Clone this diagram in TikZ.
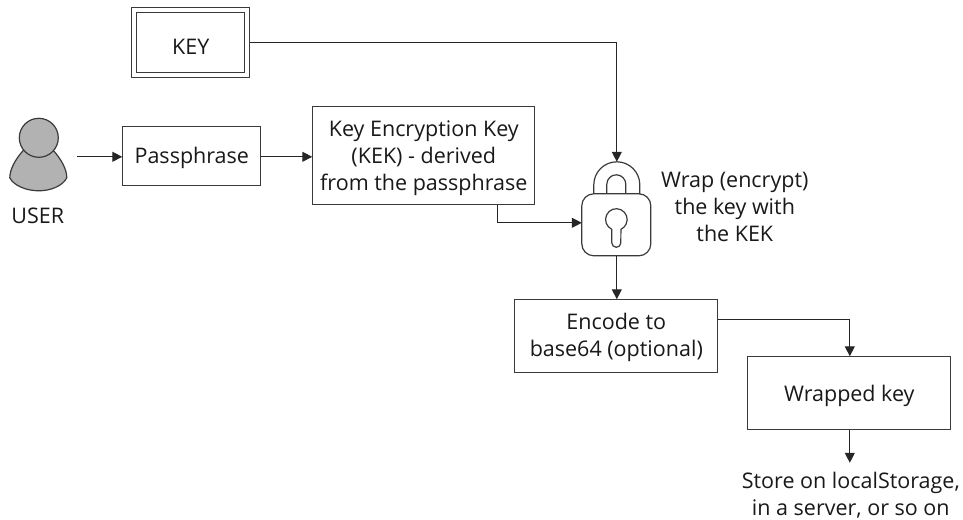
\documentclass[tikz,border=0pt]{standalone}
\usepackage{fontspec}
\setmainfont{Open Sans}
\usetikzlibrary{arrows.meta,calc}
\definecolor{ln}{HTML}{3A3A3A}
\tikzset{
  boxn/.style={draw=ln,line width=1.1pt,fill=white,inner sep=0pt,align=center,text=black!90},
  lbl/.style={inner sep=0pt,align=center,text=black!90},
  conn/.style={draw=black!85,line width=1.1pt,-{Triangle[length=10pt,width=10pt]}},
  lockline/.style={draw=ln,line width=1.2pt}
}
\begin{document}
\begin{tikzpicture}[x=1pt,y=-1pt,font=\fontsize{21.5}{27}\selectfont]
\useasboundingbox (0.2,0.2) rectangle (963.2,519.2);
% key
\node[boxn,minimum width=118pt,minimum height=70pt] (keyo) at (191,43) {};
\node[boxn,minimum width=108pt,minimum height=60pt] (key) at (191,43) {\raisebox{-11.5pt}[0pt][0pt]{KEY}};
% user
\filldraw[fill=black!30,lockline] (24,150) .. controls (15,160) and (10,170) .. (10,178) .. controls (14,186) and (27,191) .. (39,191) .. controls (51,191) and (63,186) .. (67,178) .. controls (67,170) and (62,160) .. (53,150) -- cycle;
\node[circle,draw=ln,fill=black!30,line width=1.2pt,minimum size=39pt,inner sep=0pt] (head) at (39,138) {};
\node[lbl] (user) at (38,216) {USER};
\coordinate (userout) at (77,157);
% boxes
\node[boxn,minimum width=138pt,minimum height=59pt] (pass) at (192,156.5) {\raisebox{-7.5pt}[0pt][0pt]{Passphrase}};
\node[boxn,minimum width=222pt,minimum height=98pt] (kek) at (424,156) {\rule{0pt}{21pt}Key Encryption Key\\(KEK) - derived\\from the passphrase};
\node[boxn,minimum width=203pt,minimum height=73pt] (enc) at (616.5,336.5) {\rule{0pt}{19pt}Encode to\\base64 (optional)};
\node[boxn,minimum width=203pt,minimum height=73pt] (wrapped) at (849.5,393.5) {\raisebox{-8.5pt}[0pt][0pt]{Wrapped key}};
% lock
\node[draw=ln,line width=1.2pt,rounded corners=12pt,minimum width=69pt,minimum height=62pt,inner sep=0pt] (lock) at (616.5,225) {};
\coordinate (locktop) at (617,162);
\draw[lockline] (594,194) -- (594,185) arc[start angle=180,end angle=360,radius=23] -- (640,194);
\draw[lockline] (607,194) -- (607,184.5) arc[start angle=180,end angle=360,radius=9.5] -- (626,194);
\draw[lockline] (612,229.5) arc[start angle=115,end angle=425,radius=10.8] -- (621,243) arc[start angle=0,end angle=180,radius=4.5] -- cycle;
\node[lbl] (wrapt) at (735,207.5) {Wrap (encrypt)\\the key with\\the KEK};
\node[lbl] (store) at (851,495) {Store on localStorage,\\in a server, or so on};
\coordinate (storein) at (850,463);
% connectors
\draw[conn] (userout) -- (pass.west |- userout);
\draw[conn] (pass.east |- 0,157) -- (kek.west |- 0,157);
\draw[conn] (keyo.east) -- (617,43) -- (locktop);
\draw[conn] (498,205) -- (498,223) -- (582,223);
\draw[conn] (lock.south -| 617,0) -- (enc.north -| 617,0);
\draw[conn] (718,320) -- (850,320) -- (wrapped.north -| 850,0);
\draw[conn] (wrapped.south -| 850,0) -- (storein);
\end{tikzpicture}
\end{document}
